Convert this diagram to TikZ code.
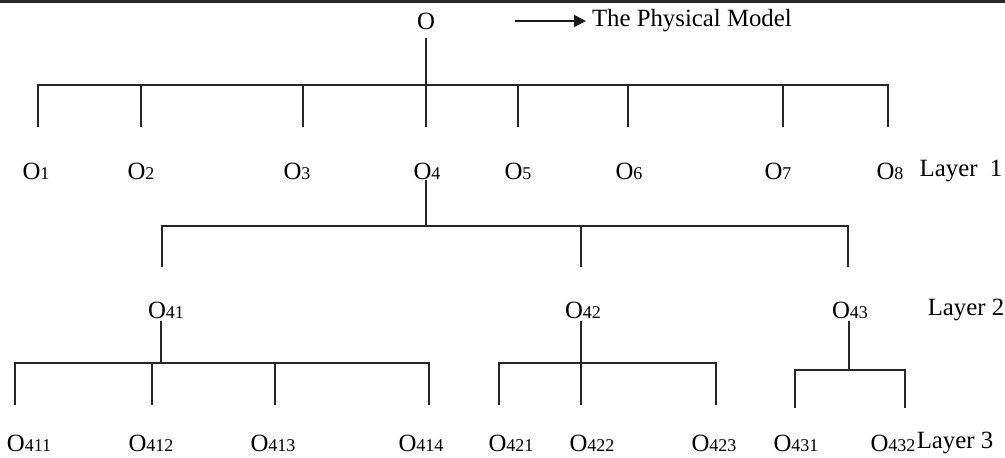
\documentclass[tikz,border=0pt]{standalone}
\usepackage{fontspec}
\setmainfont{Liberation Serif}
\usetikzlibrary{arrows.meta, positioning}
\newcommand{\obj}[1]{O{\fontsize{9}{9}\selectfont #1}}

\begin{document}
\begin{tikzpicture}[
  x=0.5pt, y=-0.5pt,
  every node/.style={font=\fontsize{12.4}{14}\selectfont, inner sep=0pt},
  label/.style={anchor=center},
  link/.style={line width=0.8pt, black!85},
  arr/.style={-{Triangle[length=6pt, width=6pt]}, line width=0.8pt, black!90}
]
  \useasboundingbox (0,0) rectangle (1005,457);

  % ── Top rule ──────────────────────────────────────────────────
  \draw[line width=1.6pt, black!85] (0,1.5) -- (1005,1.5);

  % ── Root and legend ───────────────────────────────────────────
  \node[label] (o) at (426,21) {O};
  \coordinate (legstart) at (515,21);
  \node[anchor=west, outer sep=3pt] (model) at (586,21) {The Physical Model};
  \draw[arr] (legstart) -- (model);

  % ── Layer 1 ───────────────────────────────────────────────────
  \node[label] (o1) at (36,171)  {\obj{1}};
  \node[label] (o2) at (141,171) {\obj{2}};
  \node[label] (o3) at (297,171) {\obj{3}};
  \node[label] (o4) at (427,171) {\obj{4}};
  \node[label] (o5) at (518,171) {\obj{5}};
  \node[label] (o6) at (629,171) {\obj{6}};
  \node[label] (o7) at (778,171) {\obj{7}};
  \node[label] (o8) at (890,171) {\obj{8}};
  \node[label] (lay1) at (961,171) {Layer\ \ 1};

  % ── Layer 2 ───────────────────────────────────────────────────
  \node[label] (o41) at (166,310) {\obj{41}};
  \node[label] (o42) at (583,310) {\obj{42}};
  \node[label] (o43) at (850,310) {\obj{43}};
  \node[label] (lay2) at (966,310) {Layer 2};

  % ── Layer 3 ───────────────────────────────────────────────────
  \node[label] (o411) at (29,443)  {\obj{411}};
  \node[label] (o412) at (151,443) {\obj{412}};
  \node[label] (o413) at (273,443) {\obj{413}};
  \node[label] (o414) at (421,443) {\obj{414}};
  \node[label] (o421) at (511,443) {\obj{421}};
  \node[label] (o422) at (592,443) {\obj{422}};
  \node[label] (o423) at (714,443) {\obj{423}};
  \node[label] (o431) at (796,443) {\obj{431}};
  \node[label] (o432) at (893,443) {\obj{432}};
  \node[label] (lay3) at (955,443) {Layer 3};

  % ── Stem starts, bar joints and drop ends ─────────────────────
  \coordinate (s0)   at (426,38);
  \coordinate (j0)   at (426,85);
  \coordinate (s4)   at (426,180);
  \coordinate (j4)   at (426,226);
  \coordinate (s41)  at (161,321);
  \coordinate (j41)  at (161,363);
  \coordinate (s42)  at (581,321);
  \coordinate (j42)  at (581,363);
  \coordinate (s43)  at (849,321);
  \coordinate (j43)  at (849,370);
  \foreach \n/\x in {1/38, 2/141, 3/303, 4/426, 5/518, 6/628, 7/783, 8/888}
    \coordinate (d\n) at (\x,127);
  \foreach \n/\x in {41/162, 42/581, 43/848}
    \coordinate (d\n) at (\x,267);
  \foreach \n/\x in {411/15, 412/152, 413/275, 414/429, 421/499, 422/581, 423/716}
    \coordinate (d\n) at (\x,405);
  \foreach \n/\x in {431/795, 432/905}
    \coordinate (d\n) at (\x,408);

  % ── Tree connectors ───────────────────────────────────────────
  \foreach \c in {d1, d2, d3, d4, d5, d6, d7, d8}
    \draw[link] (s0) -- (j0) -| (\c);
  \foreach \c in {d41, d42, d43}
    \draw[link] (s4) -- (j4) -| (\c);
  \foreach \c in {d411, d412, d413, d414}
    \draw[link] (s41) -- (j41) -| (\c);
  \foreach \c in {d421, d422, d423}
    \draw[link] (s42) -- (j42) -| (\c);
  \foreach \c in {d431, d432}
    \draw[link] (s43) -- (j43) -| (\c);

\end{tikzpicture}
\end{document}
